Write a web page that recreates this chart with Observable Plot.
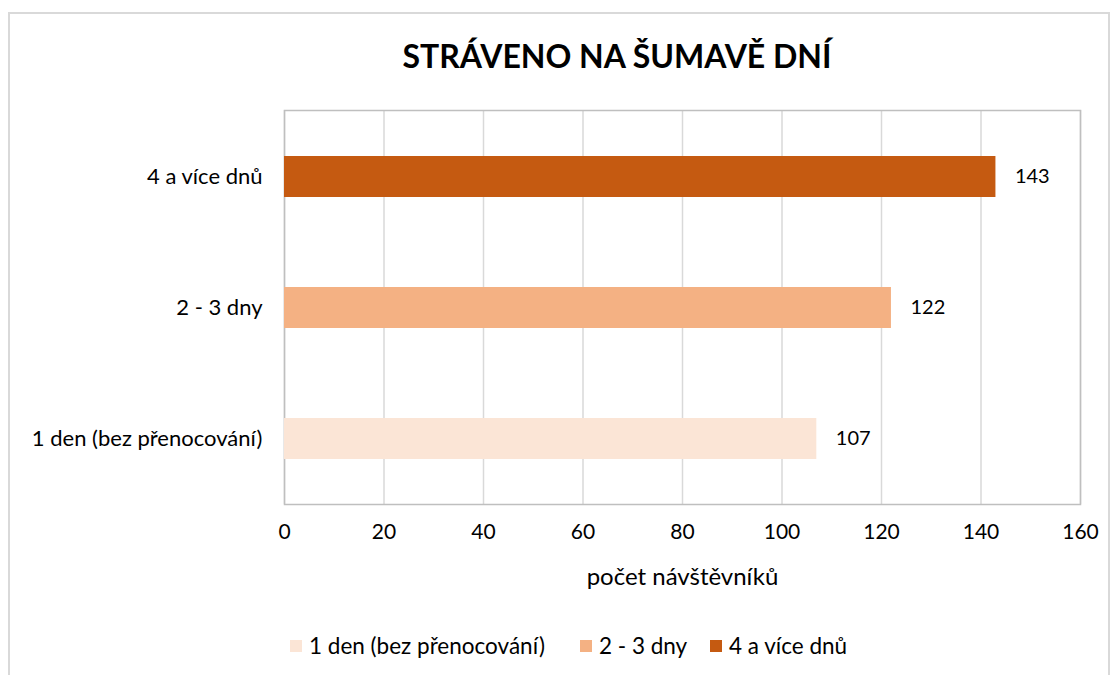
<!DOCTYPE html>
<html>
<head>
<meta charset="utf-8">
<script src="https://cdn.jsdelivr.net/npm/d3@7"></script>
<script src="https://cdn.jsdelivr.net/npm/@observablehq/plot@0.6"></script>
<style>
  html, body { margin: 0; padding: 0; background: #fff; }
  body { width: 1114px; height: 675px; position: relative; overflow: hidden; font-family: Lato, "Open Sans", sans-serif; }
  #border { position: absolute; left: 8px; top: 12px; width: 1102px; height: 700px; border: 2px solid #d9d9d9; box-sizing: border-box; }
  #title { position: absolute; top: 36px; left: 0; width: 1234px; text-align: center; font-weight: bold; font-size: 32px; color: #000; }
  #chart { position: absolute; left: 0; top: 0; }
  .item { position: absolute; top: 632px; display: flex; align-items: center; font-size: 22.5px; color: #000; white-space: nowrap; }
  .sw { width: 12px; height: 12px; margin-right: 7px; }
</style>
</head>
<body>
<div id="border"></div>
<div id="title">STRÁVENO NA ŠUMAVĚ DNÍ</div>
<div id="chart"></div>
<div id="legend"></div>
<script>
const categories = ["1 den (bez přenocování)", "2 - 3 dny", "4 a více dnů"];
const values = [107, 122, 143];
const colors = ["#fbe5d6", "#f4b183", "#c55a11"];
const xTicks = [0, 20, 40, 60, 80, 100, 120, 140, 160];
const xLabel = "počet návštěvníků";
const legendLefts = [290, 580, 710];

const data = categories.map((c, i) => ({cat: c, value: values[i]}));

const chart = Plot.plot({
  width: 1114,
  height: 600,
  marginTop: 110,
  marginBottom: 96,
  marginLeft: 284,
  marginRight: 34,
  style: {fontFamily: "Lato, 'Open Sans', sans-serif", fontSize: "21px", color: "#000", background: "transparent"},
  x: {domain: [0, 160], label: null},
  y: {domain: [...categories].reverse(), paddingInner: 0.69, paddingOuter: 0.345, label: null},
  color: {domain: categories, range: colors},
  marks: [
    Plot.gridX(xTicks, {stroke: "#d9d9d9", strokeOpacity: 1, strokeWidth: 1.5}),
    Plot.frame({stroke: "#bfbfbf", strokeWidth: 1.5}),
    Plot.barX(data, {x: "value", y: "cat", fill: "cat"}),
    Plot.text(data, {x: "value", y: "cat", text: d => String(d.value), textAnchor: "start", dx: 19, fill: "#000", fontSize: 20}),
    Plot.axisX(xTicks, {tickSize: 0, tickPadding: 20, label: null, fontSize: 21}),
    Plot.axisY({tickSize: 0, tickPadding: 22, label: null, fontSize: 22}),
    Plot.text([xLabel], {frameAnchor: "bottom", dy: 73, lineAnchor: "middle", fill: "#000", fontSize: 24})
  ]
});
document.getElementById("chart").appendChild(chart);

const legend = document.getElementById("legend");
categories.forEach((c, i) => {
  const item = document.createElement("div");
  item.className = "item";
  item.style.left = legendLefts[i] + "px";
  const sw = document.createElement("div");
  sw.className = "sw";
  sw.style.background = colors[i];
  const t = document.createElement("span");
  t.textContent = c;
  item.appendChild(sw);
  item.appendChild(t);
  legend.appendChild(item);
});
</script>
</body>
</html>
